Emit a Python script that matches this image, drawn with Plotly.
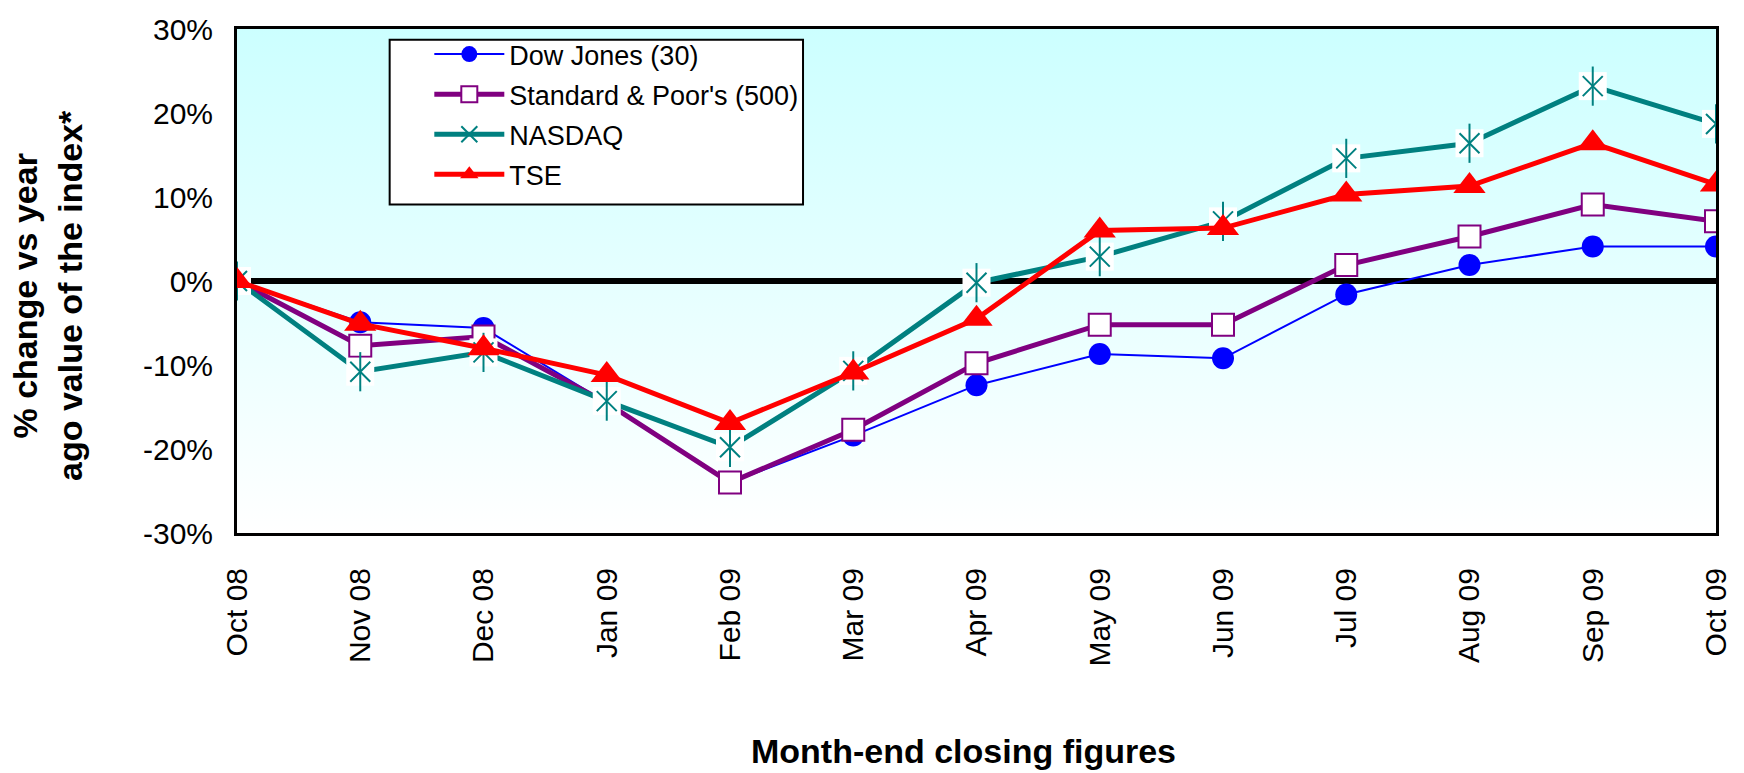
import base64
import plotly.graph_objects as go

months = ["Oct 08", "Nov 08", "Dec 08", "Jan 09", "Feb 09", "Mar 09", "Apr 09",
          "May 09", "Jun 09", "Jul 09", "Aug 09", "Sep 09", "Oct 09"]

dow_jones = [0.0, -4.9, -5.6, -14.5, -24.0, -18.4, -12.4, -8.7, -9.2, -1.6, 1.9, 4.1, 4.1]
sp500 = [0.0, -7.7, -6.6, -14.5, -24.0, -17.7, -9.8, -5.2, -5.2, 1.9, 5.3, 9.1, 7.1]
nasdaq = [0.0, -10.8, -8.5, -14.3, -19.8, -10.7, -0.2, 2.9, 7.1, 14.6, 16.4, 23.2, 18.7]
tse = [0.0, -5.1, -8.0, -11.2, -16.9, -10.9, -4.5, 6.0, 6.3, 10.3, 11.3, 16.4, 11.5]

y_tick_vals = [-30, -20, -10, 0, 10, 20, 30]
y_tick_text = ["-30%", "-20%", "-10%", "0%", "10%", "20%", "30%"]

FONT = "Liberation Sans, Arial, Helvetica, sans-serif"
TEAL = "#008080"

W, H = 1744, 773
L, R, T, B = 237, 15, 22, 240
PW, PH = W - L - R, H - T - B


def px_x(x):
    return (x - L) / PW


def px_y(y):
    return (H - B - y) / PH


fig = go.Figure()

fig.add_trace(go.Scatter(
    x=months, y=dow_jones, name="Dow Jones (30)", mode="lines+markers",
    legendgroup="dow",
    line=dict(color="#0000FF", width=2),
    marker=dict(symbol="circle", size=22, color="#0000FF"),
))
fig.add_trace(go.Scatter(
    x=months, y=sp500, name="Standard & Poor's (500)", mode="lines+markers",
    legendgroup="sp",
    line=dict(color="#800080", width=5),
    marker=dict(symbol="square", size=22, color="#FFFFFF",
                line=dict(color="#800080", width=2)),
))
fig.add_trace(go.Scatter(
    x=months, y=nasdaq, name="NASDAQ", mode="lines+markers",
    legendgroup="nasdaq",
    line=dict(color=TEAL, width=5),
    marker=dict(symbol="x-thin-open", size=20, color=TEAL,
                line=dict(color=TEAL, width=2)),
))
fig.add_trace(go.Scatter(
    x=months, y=nasdaq, name="NASDAQ", mode="markers", showlegend=False,
    legendgroup="nasdaq", hoverinfo="skip",
    marker=dict(symbol="square", size=28, color="#FFFFFF", line=dict(width=0)),
))
fig.add_trace(go.Scatter(
    x=months, y=nasdaq, name="NASDAQ", mode="markers", showlegend=False,
    legendgroup="nasdaq", hoverinfo="skip",
    marker=dict(symbol="x-thin-open", size=20, color=TEAL,
                line=dict(color=TEAL, width=2)),
))
fig.add_trace(go.Scatter(
    x=months, y=nasdaq, name="NASDAQ", mode="markers", showlegend=False,
    legendgroup="nasdaq", hoverinfo="skip",
    marker=dict(symbol="line-ns-open", size=28, color=TEAL,
                line=dict(color=TEAL, width=2)),
))
fig.add_trace(go.Scatter(
    x=months, y=tse, name="TSE", mode="lines+markers",
    legendgroup="tse",
    line=dict(color="#FF0000", width=5),
    marker=dict(symbol="triangle-up", size=28, color="#FF0000"),
))

svg = ('<svg xmlns="http://www.w3.org/2000/svg" width="10" height="100" '
       'preserveAspectRatio="none"><defs><linearGradient id="g" x1="0" y1="0" '
       'x2="0" y2="1"><stop offset="0" stop-color="#CCFFFF"/>'
       '<stop offset="1" stop-color="#FFFFFF"/></linearGradient></defs>'
       '<rect width="10" height="100" fill="url(#g)"/></svg>')
src = "data:image/svg+xml;base64," + base64.b64encode(svg.encode()).decode()

fig.update_layout(
    width=W, height=H,
    margin=dict(l=L, r=R, t=T, b=B),
    paper_bgcolor="#FFFFFF",
    plot_bgcolor="rgba(0,0,0,0)",
    font=dict(family=FONT, color="#000000", size=27),
    images=[dict(source=src, xref="paper", yref="paper", x=0, y=1,
                 sizex=1, sizey=1, sizing="stretch", layer="below",
                 xanchor="left", yanchor="top")],
    shapes=[dict(type="rect", xref="paper", yref="paper",
                 x0=px_x(391), x1=px_x(808), y0=px_y(200), y1=px_y(33),
                 fillcolor="#FFFFFF", line=dict(color="#000000", width=2),
                 layer="above")],
    legend=dict(
        x=px_x(431), y=px_y(23), xanchor="left", yanchor="top",
        bgcolor="rgba(0,0,0,0)", borderwidth=0,
        font=dict(family=FONT, size=27, color="#000000"),
        itemwidth=70, tracegroupgap=2,
    ),
    showlegend=True,
    annotations=[
        dict(text="<b>% change vs year<br>ago value of the index*</b>",
             xref="paper", yref="paper", x=px_x(46), y=px_y(292),
             xanchor="center", yanchor="middle", textangle=-90, showarrow=False,
             font=dict(family=FONT, size=34, color="#000000")),
        dict(text="<b>Month-end closing figures</b>",
             xref="paper", yref="paper", x=px_x(970), y=px_y(754),
             xanchor="center", yanchor="middle", showarrow=False,
             font=dict(family=FONT, size=34, color="#000000")),
    ],
)

fig.update_xaxes(
    type="category", range=[0, 12], showgrid=False, zeroline=False,
    showline=True, linecolor="#000000", linewidth=3, mirror=True,
    ticks="", tickangle=-90, ticklabelstandoff=20,
    tickfont=dict(family=FONT, size=30, color="#000000"),
)
fig.update_yaxes(
    range=[-30, 30], showgrid=False,
    zeroline=True, zerolinecolor="#000000", zerolinewidth=6,
    showline=True, linecolor="#000000", linewidth=3, mirror=True,
    ticks="", tickvals=y_tick_vals, ticktext=y_tick_text, ticklabelstandoff=15,
    ticklabeloverflow="allow",
    tickfont=dict(family=FONT, size=30, color="#000000"),
)

fig.write_html(
    "out.html",
    config={"displayModeBar": False},
    post_script="document.body.style.margin='0';document.body.style.overflow='hidden';",
)
